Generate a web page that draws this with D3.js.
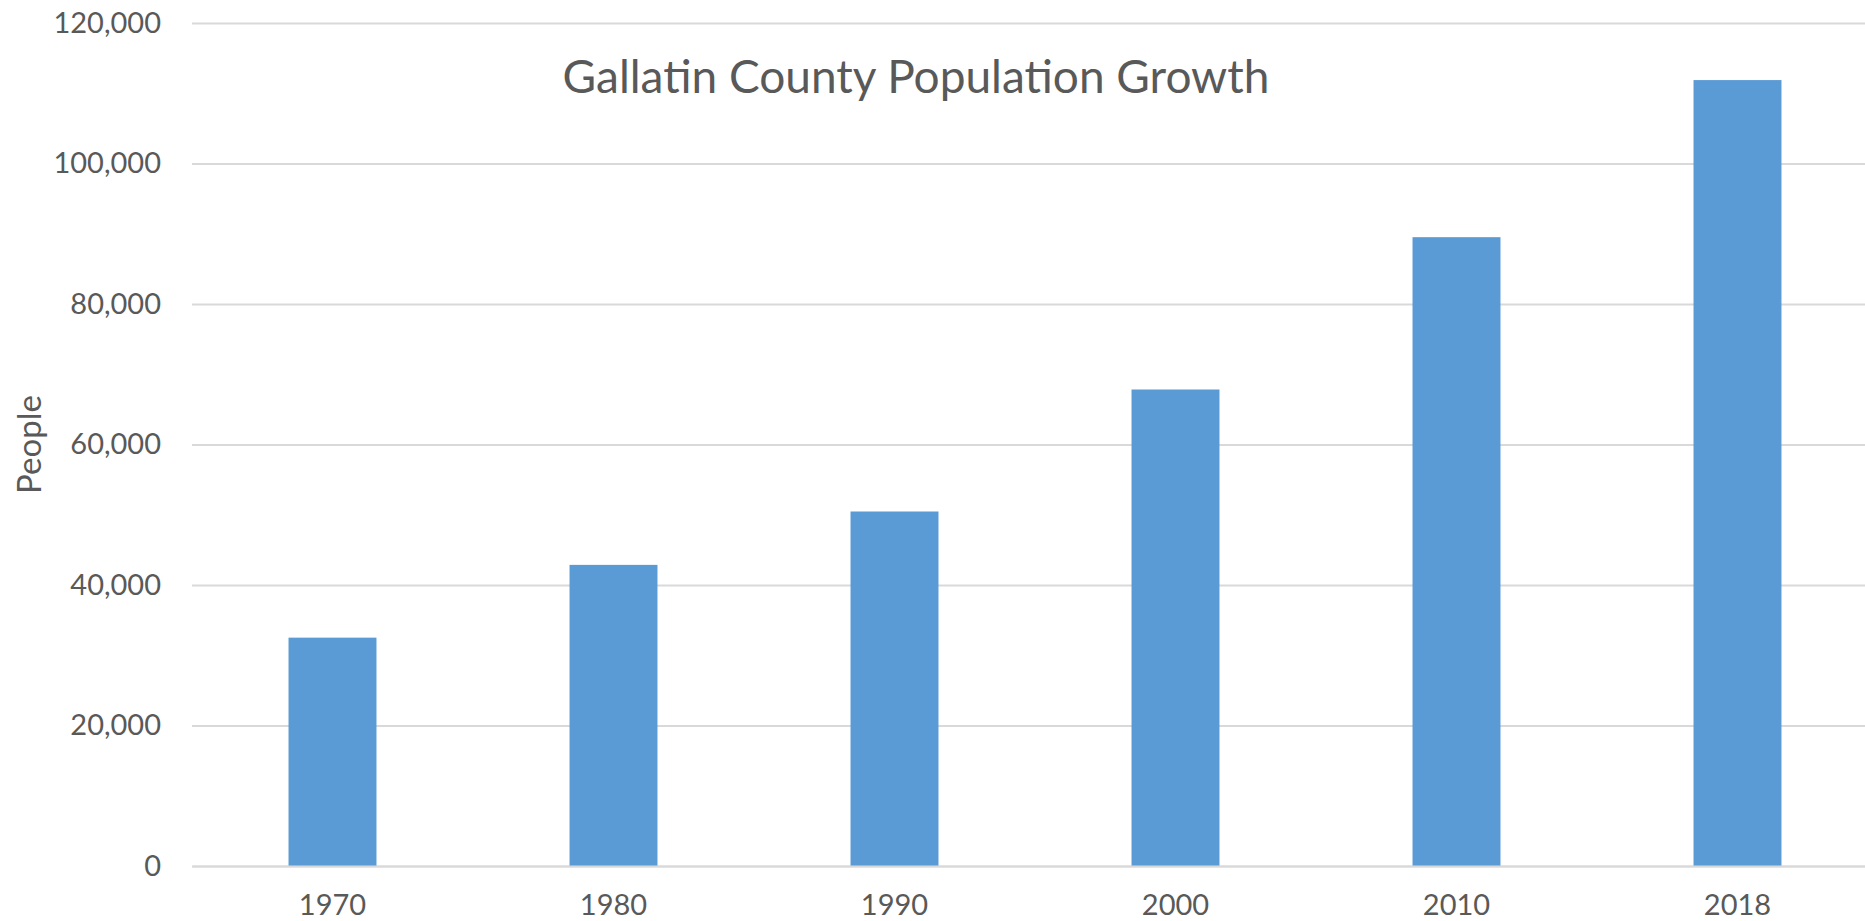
<!DOCTYPE html>
<html>
<head>
<meta charset="utf-8">
<script src="https://cdn.jsdelivr.net/npm/d3@7"></script>
<style>
  html, body { margin: 0; padding: 0; background: #fff; }
  svg { display: block; }
  text { font-family: Lato, "Open Sans", sans-serif; fill: #595959; }
</style>
</head>
<body>
<svg id="chart" width="1865" height="921"></svg>
<script>
const years = ["1970", "1980", "1990", "2000", "2010", "2018"];
const population = [32505, 42865, 50463, 67831, 89513, 111876];
const yTicks = [0, 20000, 40000, 60000, 80000, 100000, 120000];
const titleText = "Gallatin County Population Growth";
const yLabel = "People";

(function () {
const svg = d3.select("#chart");
const pLeft = 192, pRight = 1878, pTop = 23, pBottom = 866;

const x = d3.scaleBand().domain(years).range([pLeft, pRight]).paddingInner(0.687).paddingOuter(0.3435);
const y = d3.scaleLinear().domain([0, 120000]).range([pBottom, pTop]);

// gridlines + y labels
const yAxis = d3.axisLeft(y).tickValues(yTicks).tickSize(-(pRight - pLeft)).tickPadding(31)
  .tickFormat(d3.format(","));
const gy = svg.append("g").attr("transform", `translate(${pLeft},0)`).call(yAxis);
gy.select(".domain").remove();
gy.selectAll(".tick line").attr("stroke", "#d9d9d9").attr("stroke-width", 2);
gy.selectAll(".tick text").attr("font-size", 29).attr("fill", "#595959").attr("font-family", "Lato, 'Open Sans', sans-serif");

// bars
svg.append("g").selectAll("rect").data(years).join("rect")
  .attr("x", d => x(d))
  .attr("width", x.bandwidth())
  .attr("y", (d, i) => y(population[i]))
  .attr("height", (d, i) => y(0) - y(population[i]))
  .attr("fill", "#5b9bd5");

// x axis
const xAxis = d3.axisBottom(x).tickSize(0).tickPadding(28);
const gx = svg.append("g").attr("transform", `translate(0,${pBottom})`).call(xAxis);
gx.select(".domain").attr("stroke", "#d9d9d9").attr("stroke-width", 2);
gx.selectAll(".tick text").attr("font-size", 29).attr("fill", "#595959").attr("font-family", "Lato, 'Open Sans', sans-serif");

// title
svg.append("text").attr("x", 916).attr("y", 93).attr("text-anchor", "middle")
  .attr("font-size", 46).text(titleText);

// y label
svg.append("text").attr("transform", `translate(41,${(pTop + pBottom) / 2}) rotate(-90)`)
  .attr("text-anchor", "middle").attr("font-size", 33).text(yLabel);
})();
</script>
</body>
</html>
